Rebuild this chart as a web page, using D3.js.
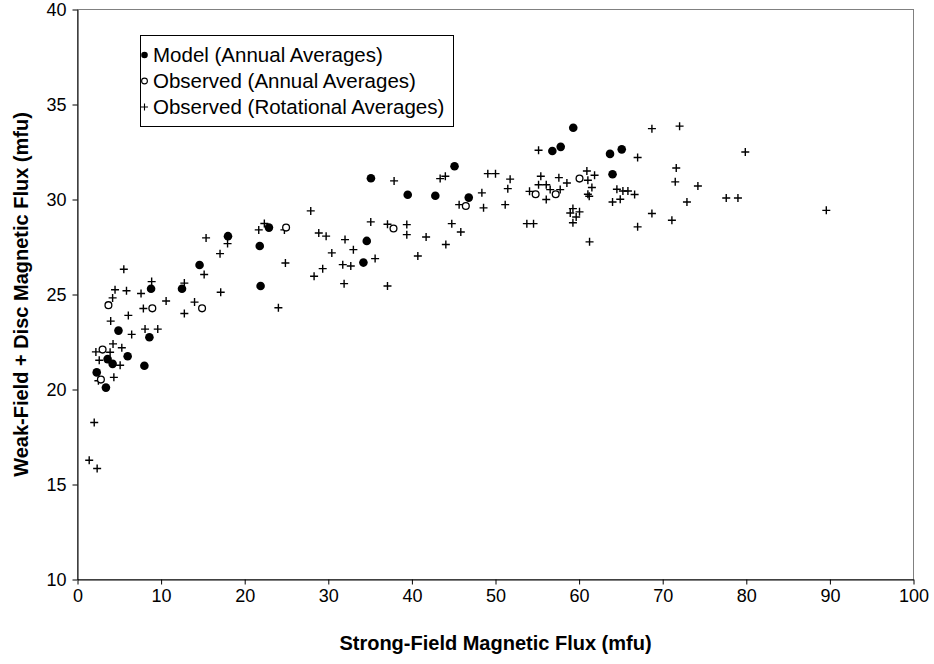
<!DOCTYPE html>
<html>
<head>
<meta charset="utf-8">
<script src="https://cdn.jsdelivr.net/npm/d3@7"></script>
<style>
  body { margin: 0; background: #fff; }
  svg { display: block; }
  text { font-family: Arial, "Liberation Sans", sans-serif; }
</style>
</head>
<body>
<svg width="934" height="664"></svg>
<script>
// values: [strong-field flux, weak-field + disc flux]
var modelAnnual = [[2.3, 20.9], [3.4, 20.1], [3.6, 21.6], [4.2, 21.35], [4.9, 23.1], [6.0, 21.75], [8.0, 21.25],
  [8.6, 22.75], [8.8, 25.3], [12.5, 25.3], [14.6, 26.55], [18.0, 28.07], [21.8, 27.55], [21.9, 25.45],
  [22.9, 28.52], [34.2, 26.68], [34.6, 27.82], [35.1, 31.12], [39.5, 30.25], [42.8, 30.2], [45.1, 31.75],
  [46.8, 30.1], [56.8, 32.55], [57.8, 32.77], [59.3, 33.78], [63.7, 32.4], [64.0, 31.33], [65.1, 32.64]];

var observedAnnual = [[2.8, 20.52], [3.0, 22.1], [3.7, 24.44], [8.95, 24.27], [14.9, 24.27], [24.95, 28.52],
  [37.8, 28.47], [46.45, 29.66], [54.8, 30.28], [57.2, 30.28], [60.05, 31.1]];

var observedRotational = [[1.4, 16.28], [2.35, 15.84], [2.0, 18.26], [2.5, 20.46], [4.35, 20.64], [5.1, 21.28],
  [2.6, 21.54], [2.2, 21.98], [3.9, 21.96], [4.25, 22.4], [5.3, 22.2], [3.97, 23.6], [6.08, 23.9], [6.48, 22.9],
  [8.08, 23.18], [9.6, 23.18], [4.2, 24.82], [7.88, 24.26], [4.49, 25.25], [5.86, 25.2], [7.6, 25.05],
  [5.54, 26.33], [8.87, 25.68], [10.6, 24.66], [12.78, 25.6], [12.78, 24.0], [14.0, 24.6],
  [15.15, 26.05], [15.38, 27.98], [17.05, 27.15], [17.95, 27.68], [17.13, 25.12], [21.68, 28.4], [22.35, 28.74],
  [24.75, 28.4], [24.87, 26.66], [24.03, 24.3], [27.9, 29.4], [28.86, 28.24], [29.74, 28.07], [30.42, 27.19],
  [29.33, 26.36], [28.3, 25.96], [32.0, 27.89], [33.0, 27.36], [31.73, 26.57], [32.69, 26.5], [31.89, 25.57],
  [35.6, 26.89], [35.08, 28.82], [37.08, 28.7], [37.08, 25.45], [37.87, 30.98], [39.39, 28.68], [39.39, 28.15],
  [41.7, 28.03], [40.71, 27.03], [43.38, 31.1],
  [44.0, 31.22], [45.65, 29.73], [44.77, 28.73], [45.85, 28.29], [44.06, 27.63], [49.08, 31.36], [50.0, 31.36],
  [51.75, 31.07], [51.47, 30.57], [48.37, 30.35], [48.57, 29.56], [51.16, 29.73], [55.15, 32.59], [53.75, 28.73],
  [54.55, 28.73], [54.07, 30.43], [55.42, 31.22], [55.15, 30.78], [56.07, 30.78], [56.54, 30.52], [56.07, 30.0],
  [57.58, 31.15], [58.54, 30.87], [57.74, 30.52], [59.26, 29.52], [58.94, 29.29], [60.05, 29.35], [59.65, 29.08],
  [59.26, 28.78], [61.25, 27.77], [60.93, 31.5], [61.85, 31.28], [61.05, 31.01], [61.53, 30.63], [61.05, 30.28],
  [61.21, 30.17], [64.52, 30.54], [65.24, 30.45], [65.84, 30.45], [66.64, 30.26], [64.92, 30.01], [64.0, 29.87],
  [67.0, 32.21], [68.71, 33.73], [72.02, 33.86], [71.62, 31.66], [71.5, 30.93], [74.21, 30.71], [72.9, 29.87],
  [68.71, 29.26], [71.1, 28.91], [67.0, 28.56], [77.6, 30.08], [79.0, 30.08], [79.88, 32.5], [89.57, 29.43]];

var xTicks = d3.range(0, 101, 10);
var yTicks = d3.range(10, 41, 5);
var legendLabels = ['Model (Annual Averages)', 'Observed (Annual Averages)', 'Observed (Rotational Averages)'];
var xTitle = 'Strong-Field Magnetic Flux (mfu)';
var yTitle = 'Weak-Field + Disc Magnetic Flux (mfu)';

var svg = d3.select('svg');
var x = d3.scaleLinear().domain([0, 100]).range([77.5, 913.5]);
var y = d3.scaleLinear().domain([10, 40]).range([579.5, 9.5]);

// plot area border (grey top/right like the original)
svg.append('rect')
  .attr('x', x(0)).attr('y', y(40))
  .attr('width', x(100) - x(0)).attr('height', y(10) - y(40))
  .attr('fill', 'none').attr('stroke', '#808080').attr('stroke-width', 1);

var xAxis = svg.append('g').attr('transform', 'translate(0,' + y(10) + ')')
  .call(d3.axisBottom(x).tickValues(xTicks).tickSize(5).tickSizeOuter(0).tickPadding(5));
var yAxis = svg.append('g').attr('transform', 'translate(' + x(0) + ',0)')
  .call(d3.axisLeft(y).tickValues(yTicks).tickSize(5).tickSizeOuter(0).tickPadding(6));

[xAxis, yAxis].forEach(function (g) {
  g.selectAll('path, line').attr('stroke', '#000').attr('stroke-width', 1);
  g.selectAll('text').attr('fill', '#000').style('font-size', '18px')
    .style('font-family', 'Arial, "Liberation Sans", sans-serif');
});

svg.append('text').attr('x', (x(0) + x(100)) / 2).attr('y', 650)
  .attr('text-anchor', 'middle').style('font-size', '20px').style('font-weight', 'bold')
  .text(xTitle);
svg.append('text').attr('transform', 'translate(28,' + ((y(10) + y(40)) / 2) + ') rotate(-90)')
  .attr('text-anchor', 'middle').style('font-size', '20px').style('font-weight', 'bold')
  .text(yTitle);

// points
svg.append('g').selectAll('path').data(observedRotational).enter().append('path')
  .attr('d', 'M-4,0H4M0,-4V4')
  .attr('transform', function (d) { return 'translate(' + x(d[0]) + ',' + y(d[1]) + ')'; })
  .attr('stroke', '#000').attr('stroke-width', 1.4).attr('fill', 'none');

svg.append('g').selectAll('circle').data(observedAnnual).enter().append('circle')
  .attr('cx', function (d) { return x(d[0]); })
  .attr('cy', function (d) { return y(d[1]); })
  .attr('r', 3.4).attr('fill', '#fff').attr('stroke', '#000').attr('stroke-width', 1.3);

svg.append('g').selectAll('circle').data(modelAnnual).enter().append('circle')
  .attr('cx', function (d) { return x(d[0]); })
  .attr('cy', function (d) { return y(d[1]); })
  .attr('r', 4.3).attr('fill', '#000');

// legend
var lg = svg.append('g');
lg.append('rect').attr('x', 140.5).attr('y', 35.5).attr('width', 313).attr('height', 91)
  .attr('fill', '#fff').attr('stroke', '#000').attr('stroke-width', 1);
legendLabels.forEach(function (lab, i) {
  var cy = 55 + i * 26;
  if (i === 0) lg.append('circle').attr('cx', 144.5).attr('cy', cy).attr('r', 3.3).attr('fill', '#000');
  if (i === 1) lg.append('circle').attr('cx', 144.5).attr('cy', cy).attr('r', 2.9).attr('fill', '#fff')
    .attr('stroke', '#000').attr('stroke-width', 1.1);
  if (i === 2) lg.append('path').attr('d', 'M141,' + cy + 'H148M144.5,' + (cy - 3.5) + 'V' + (cy + 3.5))
    .attr('stroke', '#000').attr('stroke-width', 1.1);
  lg.append('text').attr('x', 153).attr('y', cy + 7).style('font-size', '20.5px').text(lab);
});
</script>
</body>
</html>
